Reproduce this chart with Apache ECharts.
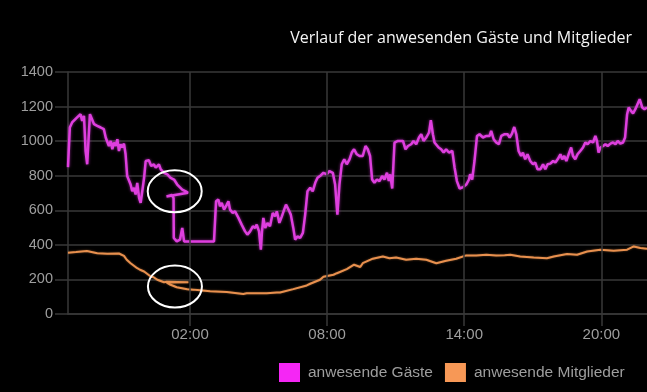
<!DOCTYPE html>
<html>
<head>
<meta charset="utf-8">
<script src="https://cdn.jsdelivr.net/npm/echarts@6/dist/echarts.min.js"></script>
<style>
html,body{margin:0;padding:0;background:#000;}
#chart{width:647px;height:392px;}
</style>
</head>
<body>
<div id="chart"></div>
<script>
// ---- data (hours relative to midnight; negative = previous evening) ----
const titleText = 'Verlauf der anwesenden Gäste und Mitglieder';
const seriesNames = ['anwesende Gäste', 'anwesende Mitglieder'];
const xTickHours = [2, 8, 14, 20];
const xRange = [-3.34, 22.0];
const yTicks = [0, 200, 400, 600, 800, 1000, 1200, 1400];

const guestHours = [-3.34,-3.26,-3.16,-2.94,-2.79,-2.72,-2.64,-2.57,-2.50,-2.38,-2.32,-2.20,-2.06,-1.91,-1.77,-1.69,-1.62,-1.55,-1.47,-1.40,-1.33,-1.25,-1.18,-1.11,-1.04,-0.97,-0.89,-0.82,-0.75,-0.67,-0.60,-0.53,-0.45,-0.38,-0.31,-0.23,-0.16,-0.09,-0.01,0.06,0.20,0.30,0.42,0.50,0.64,0.72,0.86,1.01,1.15,1.30,1.44,1.52,1.66,1.81,1.91,
  0.97,1.21,1.28,1.29,1.42,1.56,1.66,1.74,3.05,3.08,3.14,3.24,3.31,3.39,3.49,3.61,3.68,3.75,3.87,3.97,4.12,4.26,4.41,4.51,4.63,4.75,4.85,4.92,5.02,5.10,5.15,5.21,5.29,5.39,5.50,5.62,5.72,5.80,5.91,6.02,6.12,6.20,6.31,6.41,6.52,6.60,6.70,6.82,6.94,7.04,7.14,7.26,7.37,7.48,7.58,7.69,7.84,7.99,8.10,8.25,8.35,8.45,8.54,8.64,8.75,8.86,8.98,9.08,9.18,9.30,9.42,9.56,9.68,9.78,9.88,9.97,10.07,10.18,10.29,10.41,10.51,10.62,10.70,10.76,10.85,10.95,11.10,11.32,11.43,11.54,11.68,11.78,11.90,12.02,12.12,12.22,12.34,12.46,12.54,12.63,12.70,12.78,12.88,12.99,13.10,13.21,13.33,13.48,13.58,13.68,13.80,13.95,14.09,14.21,14.26,14.35,14.45,14.56,14.67,14.82,14.97,15.11,15.18,15.29,15.40,15.52,15.62,15.77,15.90,15.99,16.09,16.19,16.28,16.38,16.49,16.57,16.67,16.77,16.89,17.01,17.11,17.21,17.33,17.45,17.55,17.65,17.77,17.89,17.99,18.09,18.21,18.29,18.38,18.47,18.57,18.68,18.76,18.86,18.96,19.08,19.20,19.30,19.40,19.52,19.64,19.74,19.81,19.88,19.96,20.08,20.18,20.28,20.40,20.51,20.62,20.72,20.83,20.95,21.04,21.13,21.20,21.30,21.39,21.49,21.57,21.68,21.79,21.89,22.00];
const guestValues = [850,1079,1108,1137,1156,1117,1146,943,866,1156,1166,1098,1088,1079,1069,1021,1030,972,1001,953,992,972,1011,943,982,963,986,924,798,788,749,710,730,691,759,672,643,710,788,885,889,856,866,846,866,837,817,808,788,778,749,759,720,710,701,
  680,688,670,440,420,430,498,420,420,420,652,662,623,643,604,633,652,604,585,594,556,517,478,459,478,507,498,517,478,372,478,556,498,527,507,585,565,594,527,565,604,633,604,575,498,430,449,440,469,575,710,730,710,759,788,798,817,808,827,817,749,575,749,866,895,866,895,934,953,924,914,914,972,953,914,778,759,778,769,798,778,817,769,808,726,992,1001,1001,953,972,982,1001,982,1021,1040,1001,1021,1050,1121,1040,992,1001,963,953,934,953,934,943,846,769,726,734,749,778,808,778,885,1030,1040,1021,1030,1030,1059,1011,992,982,1030,1040,1040,1021,1044,1082,1040,943,914,934,895,924,885,866,876,837,837,866,837,866,870,885,876,895,924,895,914,885,924,963,914,895,924,943,963,992,982,1001,992,1030,1001,934,963,972,982,972,986,992,982,1001,986,992,1021,1156,1195,1175,1160,1185,1175,1243,1195,1185,1195];

const memberHours = [-3.34,-2.99,-2.51,-2.06,-1.62,-1.11,-0.89,-0.77,-0.60,-0.31,-0.19,-0.01,0.28,0.39,0.57,0.86,0.98,1.93,
  0.98,1.15,1.42,1.88,2.14,2.32,2.88,3.61,4.33,4.48,5.07,5.36,5.80,5.94,6.52,7.11,7.26,7.69,7.84,8.28,8.43,8.86,9.18,9.45,9.56,10.00,10.44,10.73,11.02,11.46,11.90,12.34,12.78,13.21,13.65,14.09,14.53,14.97,15.40,15.77,16.02,16.45,17.04,17.62,17.92,18.50,18.94,19.38,19.96,20.54,21.13,21.42,21.71,22.00];
const memberValues = [354,358,364,352,348,350,336,314,294,265,256,246,217,214,198,184,186,183,
  182,169,155,143,141,139,132,127,116,120,120,120,125,124,144,165,175,198,215,227,236,260,285,272,294,320,333,323,327,314,320,314,294,308,320,339,339,343,339,340,343,333,327,323,333,347,343,362,372,366,372,391,382,378];

// annotation ellipses around the two circled spots (data coordinates)
const markHours = [1.33, 1.34];
const markValues = [710, 159];

// ---- chart ----
const chart = echarts.init(document.getElementById('chart'), null, {renderer: 'canvas'});
const pair = (hs, vs) => hs.map((h, i) => [h, vs[i]]);
const fmtHour = v => String(((Math.round(v) % 24) + 24) % 24).padStart(2, '0') + ':00';
const gridColor = '#383838';
const labelColor = '#9e9e9e';

chart.setOption({
  backgroundColor: '#000',
  animation: false,
  title: {
    text: titleText,
    right: 10,
    top: 25,
    textStyle: {color: '#f4f4f4', fontFamily: 'Open Sans', fontSize: 16, fontWeight: 'normal'}
  },
  legend: {
    left: 279,
    top: 363,
    padding: 0,
    itemWidth: 21,
    itemHeight: 19,
    itemGap: 12,
    icon: 'rect',
    itemStyle: {borderWidth: 0},
    textStyle: {color: labelColor, fontFamily: 'Liberation Sans', fontSize: 15.5, padding: [0, 0, 0, 3]},
    data: [
      {name: seriesNames[0], itemStyle: {color: '#f526f5'}},
      {name: seriesNames[1], itemStyle: {color: '#f79856'}}
    ]
  },
  grid: {left: 68, right: 0, top: 72, bottom: 78, containLabel: false},
  xAxis: {
    type: 'value',
    min: xRange[0],
    max: xRange[1],
    axisLine: {show: true, onZero: false, lineStyle: {color: gridColor, width: 1.5}},
    axisTick: {show: true, length: 12, customValues: xTickHours, lineStyle: {color: gridColor, width: 1.5}},
    axisLabel: {customValues: xTickHours, formatter: fmtHour, color: labelColor, fontFamily: 'Liberation Sans', fontSize: 15, margin: 13},
    splitLine: {show: false}
  },
  yAxis: {
    type: 'value',
    min: yTicks[0],
    max: yTicks[yTicks.length - 1],
    interval: yTicks[1] - yTicks[0],
    axisLine: {show: true, onZero: false, lineStyle: {color: gridColor, width: 1.5}},
    axisTick: {show: true, length: 13, lineStyle: {color: gridColor, width: 1.5}},
    axisLabel: {color: labelColor, fontFamily: 'Liberation Sans', fontSize: 14.5, margin: 15, formatter: v => String(v)},
    splitLine: {show: true, lineStyle: {color: gridColor, width: 1.5}}
  },
  series: [
    {
      // carrier for the vertical grid lines at the labelled hours
      name: 'grid',
      type: 'line',
      data: [],
      silent: true,
      z: 1,
      markLine: {
        silent: true,
        symbol: 'none',
        animation: false,
        label: {show: false},
        emphasis: {disabled: true},
        lineStyle: {color: gridColor, type: 'solid', width: 1.5},
        data: xTickHours.map(h => ({xAxis: h}))
      }
    },
    {
      name: seriesNames[0],
      type: 'line',
      data: pair(guestHours, guestValues),
      showSymbol: false,
      symbol: 'none',
      itemStyle: {color: '#f526f5'},
      lineStyle: {color: '#de3fde', width: 2.5, shadowColor: 'rgba(230,60,230,0.6)', shadowBlur: 3},
      z: 3
    },
    {
      name: seriesNames[1],
      type: 'line',
      data: pair(memberHours, memberValues),
      showSymbol: false,
      symbol: 'none',
      itemStyle: {color: '#f79856'},
      lineStyle: {color: '#e8904e', width: 2, shadowColor: 'rgba(240,150,80,0.5)', shadowBlur: 2},
      z: 2
    }
  ]
});

// white hand-drawn style ellipses marking the two spots
const ellipses = markHours.map((h, i) => {
  const p = chart.convertToPixel({gridIndex: 0}, [h, markValues[i]]);
  return {
    type: 'ellipse',
    shape: {cx: p[0], cy: p[1], rx: 27, ry: 21},
    style: {fill: null, stroke: '#ffffff', lineWidth: 2},
    z: 100
  };
});
chart.setOption({graphic: ellipses});
</script>
</body>
</html>
